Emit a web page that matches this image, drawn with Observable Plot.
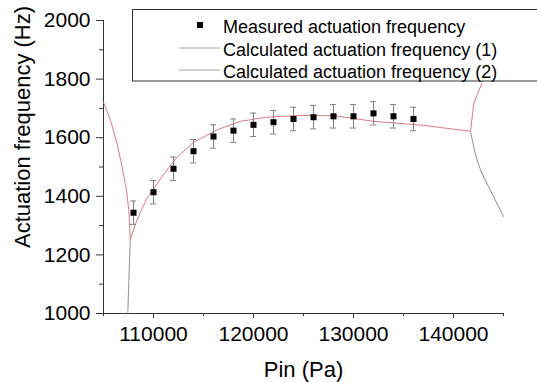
<!DOCTYPE html>
<html><head><meta charset="utf-8">
<script src="https://cdn.jsdelivr.net/npm/d3@7"></script>
<script src="https://cdn.jsdelivr.net/npm/@observablehq/plot@0.6"></script>
<style>body{margin:0;background:#fff} #chart{width:537px;height:382px;overflow:hidden}</style>
</head><body><div id="chart"></div>
<script>
// Measured data
const pressure = [108000,110000,112000,114000,116000,118000,120000,122000,124000,126000,128000,130000,132000,134000,136000];
const measuredFreq = [1344,1414,1494,1554,1604,1624,1644,1653,1664,1670,1673,1673,1683,1673,1664];
const measuredErr = [40,40,40,40,40,40,40,40,40,40,40,40,40,40,40];

// Calculated curve (1) - red
const calc1P = [105000,105700,106370,106870,107300,107530,107680,108200,108700,109300,110000,110800,112200,114030,116370,118700,121370,124700,128030,132030,137030,141700,142030,142870,143300];
const calc1F = [1721,1659,1579,1499,1420,1352,1252,1306,1346,1390,1425,1465,1528,1585,1627,1656,1670,1676,1675,1656,1642,1622,1716,1789,1850];

// Calculated curve (2) - gray, two branches
const calc2aP = [107430,107550,107680];
const calc2aF = [1000,1130,1252];
const calc2bP = [141700,142030,142370,143030,144030,145000];
const calc2bF = [1622,1568,1522,1465,1397,1331];

const xMajor = [110000,120000,130000,140000];
const xMinor = [105000,115000,125000,135000,145000];
const yMajor = [1000,1200,1400,1600,1800,2000];
const yMinor = [1100,1300,1500,1700,1900];

const legendLabels = ["Measured actuation frequency","Calculated actuation frequency (1)","Calculated actuation frequency (2)"];
const xLabel = "Pin (Pa)";
const yLabel = "Actuation frequency (Hz)";

const measured = pressure.map((p,i)=>({p, f: measuredFreq[i], e: measuredErr[i]}));
const calc1 = calc1P.map((p,i)=>({p, f: calc1F[i]}));
const calc2 = [
  ...calc2aP.map((p,i)=>({p, f: calc2aF[i], s: "a"})),
  ...calc2bP.map((p,i)=>({p, f: calc2bF[i], s: "b"}))
];

const FONT = "'Liberation Sans', Arial, Helvetica, sans-serif";
const AX = "#333";
const RED = "#e07882";
const GRAY = "#8c8c8c";

const svg = Plot.plot({
  width: 537, height: 382,
  marginLeft: 103, marginRight: 34, marginTop: 20, marginBottom: 69,
  style: {fontFamily: FONT, background: "white", color: "black", overflow: "visible"},
  x: {domain: [105000,145000]},
  y: {domain: [1000,2000]},
  marks: [
    Plot.axisX(xMinor, {tickSize: 3, tickFormat: () => "", stroke: AX, label: null}),
    Plot.axisX(xMajor, {tickSize: 5, tickPadding: 8, tickFormat: d3.format("d"), fontSize: 21, stroke: AX, fill: "black", label: null}),
    Plot.axisY(yMinor, {tickSize: 4, tickFormat: () => "", stroke: AX, label: null}),
    Plot.axisY(yMajor, {tickSize: 7, tickPadding: 6, tickFormat: d3.format("d"), fontSize: 21, stroke: AX, fill: "black", label: null}),
    Plot.ruleX([105000], {stroke: AX}),
    Plot.ruleY([1000], {stroke: AX}),
    Plot.line(calc2, {x: "p", y: "f", z: "s", stroke: GRAY, strokeWidth: 1, curve: "catmull-rom"}),
    Plot.line(calc1, {x: "p", y: "f", stroke: RED, strokeWidth: 1}),
    Plot.ruleX(measured, {x: "p", y1: d => d.f - d.e, y2: d => d.f + d.e, stroke: "#808080", strokeWidth: 1}),
    Plot.ruleY(measured, {y: d => d.f + d.e, x1: d => d.p - 300, x2: d => d.p + 300, stroke: "#808080", strokeWidth: 1}),
    Plot.ruleY(measured, {y: d => d.f - d.e, x1: d => d.p - 300, x2: d => d.p + 300, stroke: "#808080", strokeWidth: 1}),
    Plot.dot(measured, {x: "p", y: "f", symbol: "square", r: 3.4, fill: "black", stroke: "none"}),
    Plot.text([xLabel], {text: d => d, frameAnchor: "bottom", textAnchor: "middle", lineAnchor: "bottom", dy: 63, fontSize: 22, fill: "black"}),
    Plot.text([yLabel], {text: d => d, frameAnchor: "left", textAnchor: "middle", lineAnchor: "bottom", rotate: -90, dx: -74, dy: -40, fontSize: 22, fill: "black"})
  ]
});

// Legend box inside plot
const g = d3.select(svg).append("g").attr("font-family", FONT).attr("font-size", 18).attr("text-anchor", "start");
g.append("rect").attr("x", 132.5).attr("y", 9.5).attr("width", 420).attr("height", 71.5)
  .attr("fill", "white").attr("stroke", AX).attr("stroke-width", 1);
g.append("rect").attr("x", 197).attr("y", 22).attr("width", 6).attr("height", 6).attr("fill", "black");
g.append("line").attr("x1", 179).attr("x2", 220).attr("y1", 48).attr("y2", 48).attr("stroke", "#a8a8a8");
g.append("line").attr("x1", 179).attr("x2", 220).attr("y1", 70).attr("y2", 70).attr("stroke", "#a8a8a8");
const baselines = [33, 55.5, 77.5];
legendLabels.forEach((t, i) => {
  g.append("text").attr("x", 223).attr("y", baselines[i]).attr("fill", "black").attr("text-anchor", "start").text(t);
});

document.getElementById("chart").appendChild(svg);
</script>
</body></html>
